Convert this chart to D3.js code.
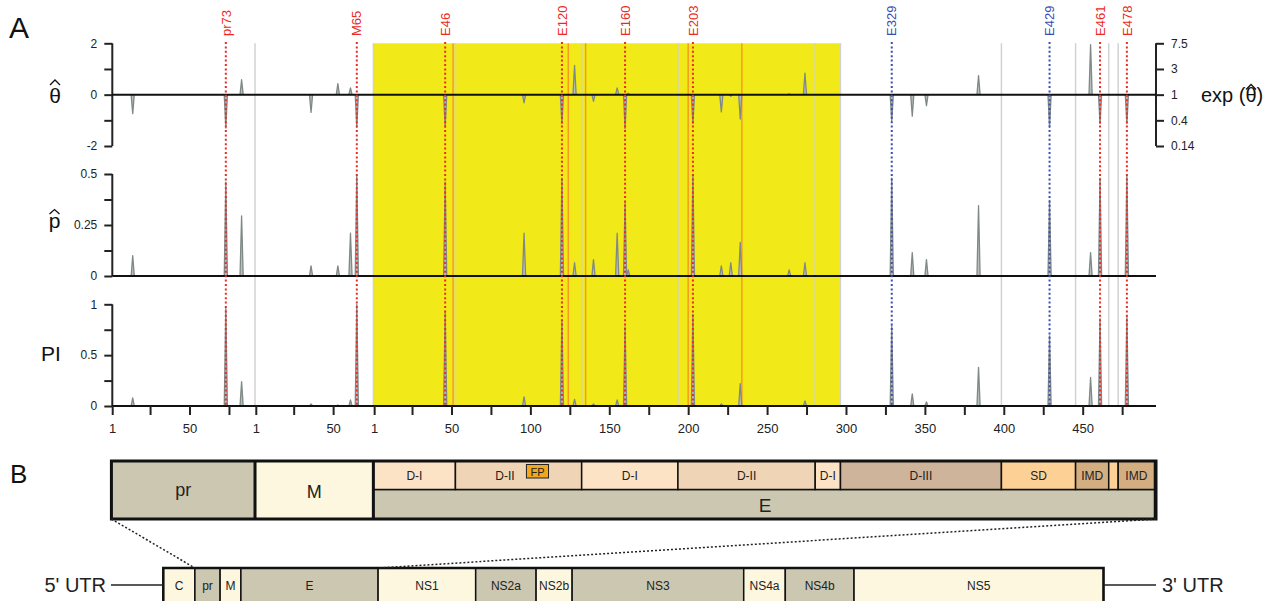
<!DOCTYPE html>
<html>
<head>
<meta charset="utf-8">
<script src="https://cdn.jsdelivr.net/npm/d3@7"></script>
<style>
  body { margin: 0; background: #fff; }
  text { font-family: "Liberation Sans", Arial, Helvetica, sans-serif; }
</style>
</head>
<body>
<div id="fig"></div>
<script>
// proteins laid end to end on the x axis
var protNames = ["pr", "M", "E"];
var protLen = [91, 75, 495];
var protOffset = [0, 91, 166];

// x axis ticks (residue numbers within each protein)
var prTicks = [1, 25, 50, 75];
var mTicks = [1, 25, 50];
var eTicks = [1, 25, 50, 75, 100, 125, 150, 175, 200, 225, 250, 275, 300, 325, 350, 375, 400, 425, 450, 475];
var labelledTicks = [1, 50, 100, 150, 200, 250, 300, 350, 400, 450];

// sites with signal: protein index, residue, theta-hat, p-hat, PI
var siteProt = [0, 0, 0, 1, 1, 1, 1, 2, 2, 2, 2, 2, 2, 2, 2, 2, 2, 2, 2, 2, 2, 2, 2, 2, 2, 2, 2, 2, 2];
var siteRes = [14, 73, 83, 36, 53, 61, 65, 46, 96, 120, 128, 140, 155, 160, 162, 203, 221, 227, 233, 264, 274, 329, 342, 351, 384, 429, 455, 461, 478];
var thetaVals = [-0.74, -1.30, 0.58, -0.69, 0.43, 0.26, -1.27, -1.27, -0.32, -1.13, 1.14, -0.26, 0.26, -1.33, 0.05, -1.13, -0.67, -0.06, -0.95, 0.03, 0.84, -1.04, -0.84, -0.43, 0.74, -1.27, 1.95, -1.13, -1.13];
var pVals = [0.10, 0.46, 0.295, 0.05, 0.05, 0.21, 0.495, 0.46, 0.21, 0.48, 0.065, 0.08, 0.21, 0.36, 0.03, 0.495, 0.05, 0.065, 0.165, 0.03, 0.065, 0.48, 0.115, 0.08, 0.345, 0.37, 0.115, 0.48, 0.495];
var piVals = [0.08, 0.96, 0.24, 0.02, 0.01, 0.06, 1.0, 0.93, 0.09, 0.85, 0.065, 0.02, 0.06, 0.78, 0.0, 0.90, 0.02, 0.0, 0.22, 0.0, 0.05, 0.79, 0.12, 0.04, 0.38, 0.69, 0.28, 0.86, 0.885];

// labelled (dotted) sites
var markNames = ["pr73", "M65", "E46", "E120", "E160", "E203", "E329", "E429", "E461", "E478"];
var markProt = [0, 1, 2, 2, 2, 2, 2, 2, 2, 2];
var markRes = [73, 65, 46, 120, 160, 203, 329, 429, 461, 478];
var markBlue = [false, false, false, false, false, false, true, true, false, false];

// E residues with orange lines
var orangeRes = [51, 124, 135, 200, 234];

// E domains (boundaries after residue)
var eDomNames = ["D-I", "D-II", "D-I", "D-II", "D-I", "D-III", "SD", "IMD", "", "IMD"];
var eDomStart = [0, 52, 132, 193, 280, 296, 398, 445, 466, 472];
var eDomEnd = [52, 132, 193, 280, 296, 398, 445, 466, 472, 495];
var fpStart = 97, fpEnd = 111;
var yellowStart = 0, yellowEnd = 296;

// theta axis: left ticks, right exp labels
var thetaTicks = [-2, -1, 0, 1, 2];
var expLabels = ["0.14", "0.4", "1", "3", "7.5"];

// genome
var genomeNames = ["C", "pr", "M", "E", "NS1", "NS2a", "NS2b", "NS3", "NS4a", "NS4b", "NS5"];
var genomeLen = [114, 91, 75, 495, 352, 218, 130, 619, 150, 248, 900];

var domColor = {"D-I": "#fde3c6", "D-II": "#efd5b5", "D-III": "#cdb49a", "SD": "#fdd195", "IMD": "#d3ae81", "": "#fdd195"};
var tan = "#cbc7b1", cream = "#fcf7de";
var red = "#ec2a24", blue = "#3a4db2";

var svg = d3.select("#fig").append("svg").attr("width", 1270).attr("height", 601);

var x = d3.scaleLinear().domain([1, 661]).range([112.2, 1153.7]);
var yT = d3.scaleLinear().domain([-2, 2]).range([146, 43.3]);
var yP = d3.scaleLinear().domain([0, 0.5]).range([276, 174]);
var yI = d3.scaleLinear().domain([0, 1]).range([406, 304.3]);

function g(p, r) { return protOffset[p] + r; }
function bound(p, b) { return x(protOffset[p] + b + 0.5); }

var yTop = yT(2), yBottom = yI(0), xRight = 1156;

// yellow region
svg.append("rect").attr("x", bound(2, yellowStart)).attr("y", yTop)
  .attr("width", bound(2, yellowEnd) - bound(2, yellowStart)).attr("height", yBottom - yTop)
  .attr("fill", "#f2e918");

// grey domain boundary lines
var greyB = [bound(0, 91), bound(1, 75)].concat(eDomEnd.slice(0, 9).map(function(b){ return bound(2, b); }));
svg.selectAll(".gline").data(greyB).enter().append("line")
  .attr("x1", d => d).attr("x2", d => d).attr("y1", yTop).attr("y2", yBottom)
  .attr("stroke", "#d2d2d2").attr("stroke-width", 1.5);

svg.selectAll(".oline").data(orangeRes).enter().append("line")
  .attr("x1", d => x(g(2, d))).attr("x2", d => x(g(2, d))).attr("y1", yTop).attr("y2", yBottom)
  .attr("stroke", "#f8961e").attr("stroke-width", 1.4);

// spikes
var sites = siteRes.map(function(r, i){
  return {g: g(siteProt[i], r), t: thetaVals[i], p: pVals[i], pi: piVals[i]};
});
function spikes(key, y) {
  var line = d3.line().x(d => x(d[0])).y(d => y(d[1]));
  svg.append("g").selectAll("path").data(sites.filter(d => d[key] !== 0)).enter().append("path")
    .attr("d", d => line([[d.g - 1, 0], [d.g, d[key]], [d.g + 1, 0]]))
    .attr("fill", "#b9bfbe").attr("stroke", "#7f8987").attr("stroke-width", 1.3)
    .attr("stroke-linejoin", "round");
}
spikes("t", yT);
spikes("p", yP);
spikes("pi", yI);

// axes
function styleAxis(sel, fs) {
  sel.select(".domain").remove();
  sel.selectAll(".tick line").attr("stroke", "#222").attr("stroke-width", 2);
  sel.selectAll(".tick text").attr("fill", "#222").style("font-size", fs + "px")
    .style("font-family", '"Liberation Sans", Arial, sans-serif');
}
function vline(xx, y1, y2) {
  svg.append("line").attr("x1", xx).attr("x2", xx).attr("y1", y1).attr("y2", y2)
    .attr("stroke", "#222").attr("stroke-width", 2);
}
function hline(x1, x2, yy) {
  svg.append("line").attr("x1", x1).attr("x2", x2).attr("y1", yy).attr("y2", yy)
    .attr("stroke", "#111").attr("stroke-width", 2);
}

svg.append("g").attr("transform", "translate(112.3,0)")
  .call(d3.axisLeft(yT).tickValues(thetaTicks).tickSize(8).tickPadding(7)
    .tickFormat(d => (d % 2 === 0 ? d : "")))
  .call(sel => styleAxis(sel, 12));
vline(112.3, yT(2), yT(-2));

svg.append("g").attr("transform", "translate(" + xRight + ",0)")
  .call(d3.axisRight(yT).tickValues(thetaTicks).tickSize(8).tickPadding(7)
    .tickFormat((d, i) => expLabels[i]))
  .call(sel => styleAxis(sel, 12));
vline(xRight, yT(2), yT(-2));

svg.append("g").attr("transform", "translate(112.3,0)")
  .call(d3.axisLeft(yP).tickValues([0, 0.125, 0.25, 0.375, 0.5]).tickSize(8).tickPadding(7)
    .tickFormat(d => (d === 0 ? "0" : d === 0.25 ? "0.25" : d === 0.5 ? "0.5" : "")))
  .call(sel => styleAxis(sel, 12));
vline(112.3, yP(0.5), yP(0));

svg.append("g").attr("transform", "translate(112.3,0)")
  .call(d3.axisLeft(yI).tickValues([0, 0.25, 0.5, 0.75, 1]).tickSize(8).tickPadding(7)
    .tickFormat(d => (d === 0 ? "0" : d === 0.5 ? "0.5" : d === 1 ? "1" : "")))
  .call(sel => styleAxis(sel, 12));
vline(112.3, yI(1), yI(0));

hline(112.3, xRight, yT(0));
hline(112.3, xRight, yP(0));
hline(112.3, xRight, yI(0));

// x axis
var xTicks = [], xLabs = {};
[prTicks, mTicks, eTicks].forEach(function(arr, p){
  arr.forEach(function(r){
    xTicks.push(g(p, r));
    xLabs[g(p, r)] = labelledTicks.indexOf(r) >= 0 ? String(r) : "";
  });
});
svg.append("g").attr("transform", "translate(0," + yI(0) + ")")
  .call(d3.axisBottom(x).tickValues(xTicks).tickSize(9).tickPadding(9).tickFormat(d => xLabs[d]))
  .call(sel => styleAxis(sel, 13));

// dotted site lines and labels
markNames.forEach(function(name, i){
  var xx = x(g(markProt[i], markRes[i]));
  var col = markBlue[i] ? blue : red;
  svg.append("line").attr("x1", xx).attr("x2", xx).attr("y1", 42).attr("y2", yI(0))
    .attr("stroke", col).attr("stroke-width", 2).attr("stroke-dasharray", "2,2.4");
  svg.append("text").attr("transform", "translate(" + xx + ",36) rotate(-90)")
    .attr("dy", "0.36em").attr("fill", col).style("font-size", "13px").text(name);
});

// panel labels; the hats are drawn as wide circumflex strokes
function hat(cx, by, w, h) {
  svg.append("path")
    .attr("d", d3.line()([[cx - w / 2, by], [cx, by - h], [cx + w / 2, by]]))
    .attr("fill", "none").attr("stroke", "#111").attr("stroke-width", 1.3);
}
svg.append("text").attr("x", 55).attr("y", 103.3).attr("text-anchor", "middle")
  .style("font-size", "21px").attr("fill", "#111").text("θ");
hat(55, 85, 10, 5);
svg.append("text").attr("x", 54.5).attr("y", 228.3).attr("text-anchor", "middle")
  .style("font-size", "21px").attr("fill", "#111").text("p");
hat(54.5, 214, 10, 4.5);
svg.append("text").attr("x", 51).attr("y", 360.7).attr("text-anchor", "middle")
  .style("font-size", "21px").attr("fill", "#111").text("PI");

var expT = svg.append("text").attr("x", 1201).attr("y", 101.5)
  .style("font-size", "20px").attr("fill", "#111").text("exp (θ)");
var th0 = expT.node().getStartPositionOfChar(5).x, th1 = expT.node().getEndPositionOfChar(5).x;
hat((th0 + th1) / 2, 89.5, 10, 5);

svg.append("text").attr("x", 9).attr("y", 38.3).style("font-size", "30px").attr("fill", "#111").text("A");
svg.append("text").attr("x", 10).attr("y", 483).style("font-size", "26px").attr("fill", "#111").text("B");

// panel B: pr / M / E box
var bTop = 461, bMid = 489.5, bBot = 519;
svg.append("rect").attr("x", bound(0, 0)).attr("y", bTop).attr("width", bound(0, 91) - bound(0, 0))
  .attr("height", bBot - bTop).attr("fill", tan);
svg.append("rect").attr("x", bound(1, 0)).attr("y", bTop).attr("width", bound(1, 75) - bound(1, 0))
  .attr("height", bBot - bTop).attr("fill", cream);
svg.append("rect").attr("x", bound(2, 0)).attr("y", bMid).attr("width", bound(2, 495) - bound(2, 0))
  .attr("height", bBot - bMid).attr("fill", tan).attr("stroke", "#111").attr("stroke-width", 1.5);

svg.selectAll(".dom").data(eDomNames).enter().append("rect")
  .attr("x", (d, i) => bound(2, eDomStart[i])).attr("y", bTop)
  .attr("width", (d, i) => bound(2, eDomEnd[i]) - bound(2, eDomStart[i])).attr("height", bMid - bTop)
  .attr("fill", d => domColor[d]).attr("stroke", "#111").attr("stroke-width", 1.5);
// label of the domain holding the fusion peptide sits left of the FP box
svg.selectAll(".domt").data(eDomNames).enter().append("text")
  .attr("x", function(d, i){
    var a = bound(2, eDomStart[i]), b = bound(2, eDomEnd[i]);
    if (eDomStart[i] <= fpStart && eDomEnd[i] >= fpEnd) b = bound(2, fpEnd) - 6;
    return (a + b) / 2 + (eDomStart[i] <= fpStart && eDomEnd[i] >= fpEnd ? 6 : 0);
  })
  .attr("y", 480)
  .attr("text-anchor", "middle").style("font-size", "12px").attr("fill", "#222").text(d => d);

svg.append("rect").attr("x", bound(2, fpStart)).attr("y", 464.5)
  .attr("width", bound(2, fpEnd) - bound(2, fpStart)).attr("height", 13.5)
  .attr("fill", "#f5a61c").attr("stroke", "#222").attr("stroke-width", 1);
svg.append("text").attr("x", (bound(2, fpStart) + bound(2, fpEnd)) / 2).attr("y", 475.5)
  .attr("text-anchor", "middle").style("font-size", "11px").attr("fill", "#222").text("FP");

svg.append("text").attr("x", (bound(0, 0) + bound(0, 91)) / 2).attr("y", 496).attr("text-anchor", "middle")
  .style("font-size", "18px").attr("fill", "#222").text("pr");
svg.append("text").attr("x", (bound(1, 0) + bound(1, 75)) / 2).attr("y", 498).attr("text-anchor", "middle")
  .style("font-size", "18px").attr("fill", "#222").text("M");
svg.append("text").attr("x", 765).attr("y", 511.5).attr("text-anchor", "middle")
  .style("font-size", "19px").attr("fill", "#222").text("E");

[bound(1, 0), bound(2, 0)].forEach(function(xx){
  svg.append("line").attr("x1", xx).attr("x2", xx).attr("y1", bTop).attr("y2", bBot)
    .attr("stroke", "#111").attr("stroke-width", 3);
});
svg.append("rect").attr("x", bound(0, 0)).attr("y", bTop).attr("width", xRight - bound(0, 0))
  .attr("height", bBot - bTop).attr("fill", "none").attr("stroke", "#111").attr("stroke-width", 3);

// genome bar
var gx = d3.scaleLinear().domain([0, d3.sum(genomeLen)]).range([163.3, 1103.5]);
var gStart = [];
genomeLen.reduce(function(acc, l){ gStart.push(acc); return acc + l; }, 0);
var gTop = 568, gBot = 607;
svg.selectAll(".gen").data(genomeNames).enter().append("rect")
  .attr("x", (d, i) => gx(gStart[i])).attr("y", gTop)
  .attr("width", (d, i) => gx(gStart[i] + genomeLen[i]) - gx(gStart[i])).attr("height", gBot - gTop)
  .attr("fill", (d, i) => (i % 2 === 0 ? cream : tan)).attr("stroke", "#111").attr("stroke-width", 1.5);
svg.selectAll(".gent").data(genomeNames).enter().append("text")
  .attr("x", (d, i) => gx(gStart[i] + genomeLen[i] / 2)).attr("y", 589.5)
  .attr("text-anchor", "middle").style("font-size", "12px").attr("fill", "#222").text(d => d);
svg.append("rect").attr("x", gx(0)).attr("y", gTop).attr("width", gx(d3.sum(genomeLen)) - gx(0))
  .attr("height", gBot - gTop).attr("fill", "none").attr("stroke", "#111").attr("stroke-width", 2.5);

svg.append("line").attr("x1", 111).attr("x2", gx(0)).attr("y1", 585).attr("y2", 585)
  .attr("stroke", "#222").attr("stroke-width", 1.3);
svg.append("line").attr("x1", gx(d3.sum(genomeLen))).attr("x2", 1156).attr("y1", 585).attr("y2", 585)
  .attr("stroke", "#222").attr("stroke-width", 1.3);
svg.append("text").attr("x", 106).attr("y", 591.5).attr("text-anchor", "end")
  .style("font-size", "20px").attr("fill", "#222").text("5' UTR");
svg.append("text").attr("x", 1162).attr("y", 591.5)
  .style("font-size", "20px").attr("fill", "#222").text("3' UTR");

// zoom lines from box to genome
svg.append("line").attr("x1", bound(0, 0)).attr("y1", bBot).attr("x2", gx(gStart[1])).attr("y2", gTop)
  .attr("stroke", "#222").attr("stroke-width", 1.5).attr("stroke-dasharray", "2,2");
svg.append("line").attr("x1", xRight).attr("y1", bBot).attr("x2", gx(gStart[4])).attr("y2", gTop)
  .attr("stroke", "#222").attr("stroke-width", 1.5).attr("stroke-dasharray", "2,2");
</script>
</body>
</html>
